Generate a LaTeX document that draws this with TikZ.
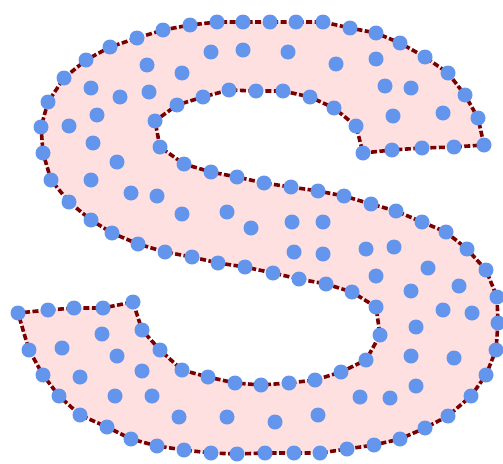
\documentclass[tikz,border=0pt]{standalone}
\usepackage{tikz}

\definecolor{dotblue}{RGB}{100,149,237}
\definecolor{edgered}{RGB}{120,0,0}
\definecolor{shapepink}{RGB}{255,224,224}

\tikzset{
	shapefill/.style={fill=shapepink},
	outline/.style={draw=edgered, line width=3.6pt, dash pattern=on 6pt off 2.5pt, line join=round},
	dot/.style={fill=dotblue}
}

\begin{document}
\begin{tikzpicture}[x=1pt, y=-1pt]
	\useasboundingbox (0,0) rectangle (503,463);
	% the S outline
	\path[shapefill] (484,145) -- (478,118) -- (465,95) -- (448,73) -- (425,57) -- (400,43) -- (376,33) -- (350,28) -- (323,22) -- (296,22) -- (270,22) -- (243,22) -- (217,22) -- (190,25) -- (163,30) -- (137,38) -- (110,47) -- (86,60) -- (64,78) -- (48,102) -- (41,127) -- (43,153) -- (51,180) -- (69,202) -- (91,220) -- (112,233) -- (138,244) -- (165,252) -- (192,257) -- (218,263) -- (245,267) -- (273,273) -- (299,279) -- (326,284) -- (352,292) -- (376,307) -- (380,335) -- (366,360) -- (341,372) -- (315,380) -- (289,383) -- (261,385) -- (235,383) -- (208,377) -- (182,370) -- (160,350) -- (142,330) -- (133,302) -- (103,308) -- (74,308) -- (48,310) -- (18,313) -- (29,350) -- (43,375) -- (59,396) -- (80,415) -- (107,427) -- (131,439) -- (157,446) -- (184,450) -- (211,453) -- (237,454) -- (265,453) -- (294,453) -- (320,453) -- (347,449) -- (374,445) -- (400,439) -- (425,428) -- (448,416) -- (471,396) -- (486,375) -- (496,350) -- (498,323) -- (497,297) -- (486,270) -- (467,249) -- (446,232) -- (422,222) -- (396,211) -- (371,204) -- (344,196) -- (318,191) -- (291,187) -- (264,183) -- (237,177) -- (211,172) -- (184,164) -- (160,147) -- (155,121) -- (177,105) -- (203,97) -- (229,90) -- (256,91) -- (283,91) -- (310,97) -- (334,108) -- (356,126) -- (363,153) -- (392,150) -- (422,148) -- (454,147) -- cycle;
	\path[outline] (484,145) -- (478,118) -- (465,95) -- (448,73) -- (425,57) -- (400,43) -- (376,33) -- (350,28) -- (323,22) -- (296,22) -- (270,22) -- (243,22) -- (217,22) -- (190,25) -- (163,30) -- (137,38) -- (110,47) -- (86,60) -- (64,78) -- (48,102) -- (41,127) -- (43,153) -- (51,180) -- (69,202) -- (91,220) -- (112,233) -- (138,244) -- (165,252) -- (192,257) -- (218,263) -- (245,267) -- (273,273) -- (299,279) -- (326,284) -- (352,292) -- (376,307) -- (380,335) -- (366,360) -- (341,372) -- (315,380) -- (289,383) -- (261,385) -- (235,383) -- (208,377) -- (182,370) -- (160,350) -- (142,330) -- (133,302) -- (103,308) -- (74,308) -- (48,310) -- (18,313) -- (29,350) -- (43,375) -- (59,396) -- (80,415) -- (107,427) -- (131,439) -- (157,446) -- (184,450) -- (211,453) -- (237,454) -- (265,453) -- (294,453) -- (320,453) -- (347,449) -- (374,445) -- (400,439) -- (425,428) -- (448,416) -- (471,396) -- (486,375) -- (496,350) -- (498,323) -- (497,297) -- (486,270) -- (467,249) -- (446,232) -- (422,222) -- (396,211) -- (371,204) -- (344,196) -- (318,191) -- (291,187) -- (264,183) -- (237,177) -- (211,172) -- (184,164) -- (160,147) -- (155,121) -- (177,105) -- (203,97) -- (229,90) -- (256,91) -- (283,91) -- (310,97) -- (334,108) -- (356,126) -- (363,153) -- (392,150) -- (422,148) -- (454,147) -- cycle;
	% boundary points
	\foreach \x/\y in {484/145, 478/118, 465/95, 448/73, 425/57, 400/43, 376/33, 350/28, 323/22, 296/22, 270/22, 243/22, 217/22, 190/25, 163/30, 137/38, 110/47, 86/60, 64/78, 48/102, 41/127, 43/153, 51/180, 69/202, 91/220, 112/233, 138/244, 165/252, 192/257, 218/263, 245/267, 273/273, 299/279, 326/284, 352/292, 376/307, 380/335, 366/360, 341/372, 315/380, 289/383, 261/385, 235/383, 208/377, 182/370, 160/350, 142/330, 133/302, 103/308, 74/308, 48/310, 18/313, 29/350, 43/375, 59/396, 80/415, 107/427, 131/439, 157/446, 184/450, 211/453, 237/454, 265/453, 294/453, 320/453, 347/449, 374/445, 400/439, 425/428, 448/416, 471/396, 486/375, 496/350, 498/323, 497/297, 486/270, 467/249, 446/232, 422/222, 396/211, 371/204, 344/196, 318/191, 291/187, 264/183, 237/177, 211/172, 184/164, 160/147, 155/121, 177/105, 203/97, 229/90, 256/91, 283/91, 310/97, 334/108, 356/126, 363/153, 392/150, 422/148, 454/147}
		\fill[dot] (\x,\y) circle (7.5);
	% inner points
	\foreach \x/\y in {211/52, 243/50, 288/52, 336/64, 376/59, 147/65, 182/73, 91/88, 120/97, 149/92, 385/86, 411/88, 97/115, 69/126, 393/116, 443/113, 93/143, 117/162, 91/180, 131/193, 157/196, 182/214, 227/212, 251/228, 292/222, 323/222, 294/252, 323/254, 366/249, 394/247, 376/276, 428/268, 411/291, 459/286, 443/310, 472/313, 416/327, 411/356, 454/358, 416/386, 360/397, 390/398, 318/415, 275/422, 102/334, 62/348, 117/356, 142/371, 80/377, 115/396, 152/396, 179/417, 227/417}
		\fill[dot] (\x,\y) circle (7.5);
\end{tikzpicture}
\end{document}
